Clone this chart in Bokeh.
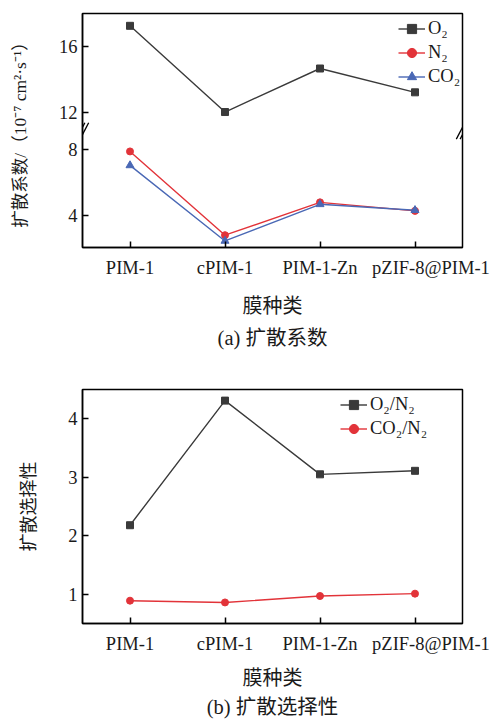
from bokeh.plotting import figure
from bokeh.layouts import column
from bokeh.models import (Range1d, FixedTicker, Legend, LegendItem,
                          Title, Arrow, LinearAxis)
from bokeh.embed import file_html
from bokeh.resources import INLINE
import numpy as np

# ---------------- data ----------------
membranes = ["PIM-1", "cPIM-1", "PIM-1-Zn", "pZIF-8@PIM-1"]
d_o2 = [17.25, 12.0, 14.65, 13.2]
d_n2 = [7.9, 2.8, 4.8, 4.28]
d_co2 = [7.05, 2.45, 4.68, 4.32]
sel_o2_n2 = [2.18, 4.31, 3.05, 3.11]
sel_co2_n2 = [0.89, 0.86, 0.97, 1.01]
yticks_a = [4, 8, 12, 16]
yticks_b = [1, 2, 3, 4]

# horizontal nudge (px) of each category label, as in the reference
label_nudge_px = [0, 0, 0, 16]

FRAME_W = 380
FRAME_H = 234

# category positions on a numeric axis (one unit per membrane)
xpos = [i + 0.5 for i in range(len(membranes))]
px_per_unit = FRAME_W / len(membranes)
label_pos = [x + n / px_per_unit for x, n in zip(xpos, label_nudge_px)]

# broken-axis settings for panel (a)
BREAK_LOW = 9.0
BREAK_HIGH = 10.7
GAP = BREAK_HIGH - BREAK_LOW


def to_disp(v):
    v = np.asarray(v, dtype=float)
    return np.where(v > BREAK_LOW, v - GAP, v)


LATIN = "'Liberation Serif', 'Noto Sans CJK SC'"
CJK = "'Noto Sans CJK SC'"
C_O2 = "#3a3a3a"
C_N2 = "#e23339"
C_CO2 = "#4a68b5"
TXT = "#1a1a1a"
TICK_FS = "18.5px"


def style(p, ticks, overrides=None):
    p.xgrid.visible = False
    p.ygrid.visible = False
    p.outline_line_color = "black"
    p.outline_line_width = 1.5
    p.outline_line_alpha = 1
    for ax in (p.xaxis[0], p.yaxis[0]):
        ax.axis_line_width = 1.5
        ax.axis_line_color = "black"
        ax.major_tick_in = 6
        ax.major_tick_out = 0
        ax.minor_tick_line_color = None
        ax.major_tick_line_width = 1.5
        ax.major_label_text_font = LATIN
        ax.major_label_text_font_size = TICK_FS
        ax.major_label_text_color = TXT
    p.yaxis[0].ticker = FixedTicker(ticks=ticks)
    p.yaxis[0].axis_label_text_font_style = "normal"
    p.yaxis[0].axis_label_text_color = TXT
    if overrides:
        p.yaxis[0].major_label_overrides = overrides
    p.yaxis[0].major_label_standoff = 5
    # bottom axis: tick marks only
    bx = p.xaxis[0]
    bx.ticker = FixedTicker(ticks=xpos)
    bx.major_label_text_color = None
    bx.major_label_standoff = 0
    # label axis: category names (last one nudged right)
    lab = LinearAxis(ticker=FixedTicker(ticks=label_pos),
                     major_label_overrides={lp: m for lp, m in zip(label_pos, membranes)},
                     axis_line_color=None, major_tick_line_color=None,
                     minor_tick_line_color=None, major_tick_in=0, major_tick_out=0,
                     major_label_standoff=10, major_label_text_font=LATIN,
                     major_label_text_font_size=TICK_FS, major_label_text_color=TXT,
                     axis_label="膜种类", axis_label_text_font=CJK,
                     axis_label_text_font_size="20px",
                     axis_label_text_font_style="normal", axis_label_text_color=TXT)
    p.add_layout(lab, "below")
    p.background_fill_color = "white"
    p.border_fill_color = "white"
    return lab


# ---------------- panel (a) ----------------
disp_ticks = [float(t) for t in to_disp(yticks_a)]
overrides_a = {dt: str(t) for dt, t in zip(disp_ticks, yticks_a)}

pa = figure(frame_width=FRAME_W, frame_height=FRAME_H, output_backend="svg",
            toolbar_location=None,
            x_range=Range1d(0, len(membranes)),
            y_range=Range1d(2.05, 18.0 - GAP),
            min_border_left=82, min_border_right=30, min_border_top=13,
            min_border_bottom=113)
lab_a = style(pa, disp_ticks, overrides_a)
lab_a.axis_label_standoff = 9
pa.yaxis[0].axis_label = "扩散系数/（10⁻⁷ cm²·s⁻¹）"
pa.yaxis[0].axis_label_text_font = LATIN
pa.yaxis[0].axis_label_text_font_size = "17.5px"
pa.yaxis[0].axis_label_standoff = 26

la1 = pa.line(xpos, to_disp(d_o2), line_color=C_O2, line_width=1.4)
sa1 = pa.scatter(xpos, to_disp(d_o2), marker="square", size=7,
                 fill_color=C_O2, line_color=C_O2)
la2 = pa.line(xpos, to_disp(d_n2), line_color=C_N2, line_width=1.4)
sa2 = pa.scatter(xpos, to_disp(d_n2), marker="circle", size=7,
                 fill_color=C_N2, line_color=C_N2)
la3 = pa.line(xpos, to_disp(d_co2), line_color=C_CO2, line_width=1.4)
sa3 = pa.scatter(xpos, to_disp(d_co2), marker="triangle", size=8,
                 fill_color=C_CO2, line_color=C_CO2)

leg_a = Legend(items=[LegendItem(label="O₂", renderers=[la1, sa1]),
                      LegendItem(label="N₂", renderers=[la2, sa2]),
                      LegendItem(label="CO₂", renderers=[la3, sa3])],
               location=(316, 159), padding=0, margin=0, spacing=1,
               glyph_width=27, glyph_height=23, label_height=23,
               label_standoff=3, border_line_color=None,
               background_fill_alpha=0, label_text_font=LATIN,
               label_text_font_size=TICK_FS, label_text_color=TXT)
pa.add_layout(leg_a)

# break marks on left and right frame edges
bc = BREAK_LOW + 0.15
for xe in (0.0, float(len(membranes))):
    for sep in (-0.02, 0.02):
        pa.add_layout(Arrow(end=None, x_start=xe + sep - 0.045, y_start=bc - 0.5,
                            x_end=xe + sep + 0.045, y_end=bc + 0.5,
                            line_color="black", line_width=1.3))

cap_a = Title(text="(a) 扩散系数", align="center", text_font=LATIN,
              text_font_size="20.5px", text_font_style="normal",
              text_color=TXT, standoff=6)
pa.add_layout(cap_a, "below")

# ---------------- panel (b) ----------------
pb = figure(frame_width=FRAME_W, frame_height=FRAME_H, output_backend="svg",
            toolbar_location=None,
            x_range=Range1d(0, len(membranes)),
            y_range=Range1d(0.5, 4.5),
            min_border_left=82, min_border_right=30, min_border_top=29,
            min_border_bottom=96)
lab_b = style(pb, yticks_b)
lab_b.axis_label_standoff = 5
pb.yaxis[0].axis_label = "扩散选择性"
pb.yaxis[0].axis_label_text_font = CJK
pb.yaxis[0].axis_label_text_font_size = "18px"
pb.yaxis[0].axis_label_standoff = 25

lb1 = pb.line(xpos, sel_o2_n2, line_color=C_O2, line_width=1.4)
sb1 = pb.scatter(xpos, sel_o2_n2, marker="square", size=7,
                 fill_color=C_O2, line_color=C_O2)
lb2 = pb.line(xpos, sel_co2_n2, line_color=C_N2, line_width=1.4)
sb2 = pb.scatter(xpos, sel_co2_n2, marker="circle", size=7,
                 fill_color=C_N2, line_color=C_N2)

leg_b = Legend(items=[LegendItem(label="O₂/N₂", renderers=[lb1, sb1]),
                      LegendItem(label="CO₂/N₂", renderers=[lb2, sb2])],
               location=(258, 183), padding=0, margin=0, spacing=1,
               glyph_width=27, glyph_height=23, label_height=23,
               label_standoff=3, border_line_color=None,
               background_fill_alpha=0, label_text_font=LATIN,
               label_text_font_size=TICK_FS, label_text_color=TXT)
pb.add_layout(leg_b)

cap_b = Title(text="(b) 扩散选择性", align="center", text_font=LATIN,
              text_font_size="20.5px", text_font_style="normal",
              text_color=TXT, standoff=0)
pb.add_layout(cap_b, "below")

layout = column(pa, pb, spacing=0)
open("out.html", "w").write(file_html(layout, INLINE))
